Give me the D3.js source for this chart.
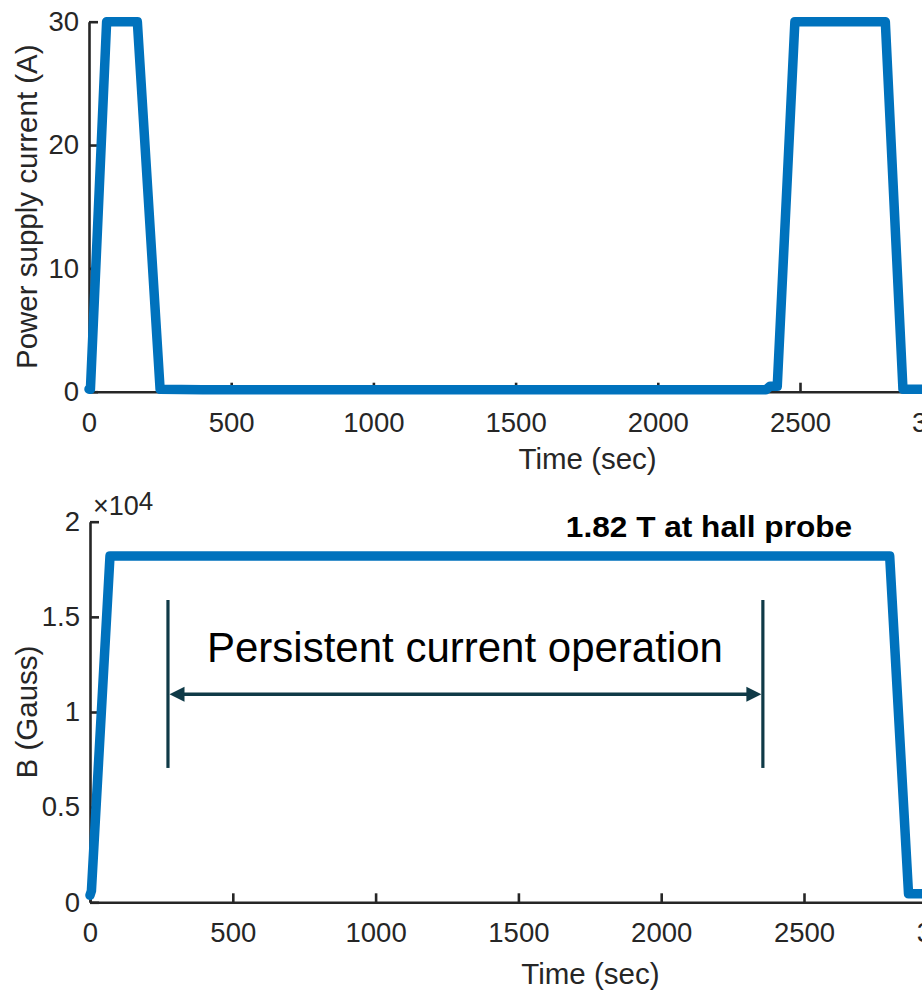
<!DOCTYPE html>
<html>
<head>
<meta charset="utf-8">
<script src="https://cdn.jsdelivr.net/npm/d3@7"></script>
<style>
  html, body { margin: 0; padding: 0; background: #ffffff; overflow: hidden; }
  svg { display: block; font-family: "Liberation Sans", Arial, Helvetica, sans-serif; }
</style>
</head>
<body>
<svg id="chart" width="922" height="995"></svg>
<script>
// Magnet charging run: power supply current and field at the hall probe.
const xTicks = [0, 500, 1000, 1500, 2000, 2500, 3000];

// Power supply current (A) vs time (s)
const timeCurrent = [0, 5, 62, 170, 250, 400, 2380, 2395, 2420, 2482, 2800, 2862, 3000];
const current     = [0.2, 0.2, 30, 30, 0.2, 0.15, 0.15, 0.45, 0.45, 30, 30, 0.2, 0.2];
const currentTicks = [0, 10, 20, 30];

// Magnetic field (Gauss) vs time (s)
const timeField = [0, 5, 70, 2800, 2866, 3000];
const field     = [370, 600, 18200, 18200, 450, 450];
const fieldTicks = [0, 5000, 10000, 15000, 20000];
const fieldTickLabels = ["0", "0.5", "1", "1.5", "2"];

// Persistent-mode window (s) and the peak field label
const persistentWindow = [273, 2356];
const peakLabel = "1.82 T at hall probe";
const persistentLabel = "Persistent current operation";

const svg = d3.select("#chart");
svg.append("rect").attr("width", 922).attr("height", 995).attr("fill", "#fff");

const AXIS = "#262626";
const LINE = "#0072BD";
const NOTE = "#0f3a47";
const TICK_FONT = 27.5;
const LABEL_FONT = 29.5;

function styleAxis(g) {
  g.select(".domain").attr("stroke", AXIS).attr("stroke-width", 2.6);
  g.selectAll(".tick line").attr("stroke", AXIS).attr("stroke-width", 2.6);
  g.selectAll(".tick text").attr("fill", AXIS).attr("font-size", TICK_FONT)
    .attr("font-family", "Liberation Sans, Arial, sans-serif");
}

function drawPanel(opts) {
  const { x, y, times, values, yTicks, yFormat, yLabel, xLabelY, yLabelX } = opts;
  const g = svg.append("g");

  const xAxis = d3.axisBottom(x).tickValues(xTicks).tickFormat(d3.format("d"))
    .tickSizeInner(-9).tickSizeOuter(0).tickPadding(20.5);
  g.append("g").attr("transform", `translate(0,${y.range()[0]})`).call(xAxis).call(styleAxis);

  const yAxis = d3.axisLeft(y).tickValues(yTicks).tickFormat(yFormat)
    .tickSizeInner(-9).tickSizeOuter(0).tickPadding(10);
  g.append("g").attr("transform", `translate(${x.range()[0]},0)`).call(yAxis).call(styleAxis);

  // x label, centred on the axis span
  g.append("text")
    .attr("x", (x.range()[0] + x.range()[1]) / 2 + 72)
    .attr("y", xLabelY)
    .attr("text-anchor", "middle")
    .attr("font-size", LABEL_FONT)
    .attr("fill", AXIS)
    .text("Time (sec)");

  // y label
  const yMid = (y.range()[0] + y.range()[1]) / 2;
  g.append("text")
    .attr("transform", `translate(${yLabelX},${yMid}) rotate(-90)`)
    .attr("text-anchor", "middle")
    .attr("font-size", LABEL_FONT)
    .attr("fill", AXIS)
    .text(yLabel);

  const pts = times.map((t, i) => [t, values[i]]);
  const line = d3.line().x(d => x(d[0])).y(d => y(d[1]));
  g.append("path")
    .datum(pts)
    .attr("d", line)
    .attr("fill", "none")
    .attr("stroke", LINE)
    .attr("stroke-width", 9.5)
    .attr("stroke-linejoin", "round")
    .attr("stroke-linecap", "round");
  return g;
}

// Top panel: current
const xTop = d3.scaleLinear().domain([0, 3000]).range([89, 89 + 6 * 142.2]);
const yTop = d3.scaleLinear().domain([0, 30]).range([391.7, 21.7]);
drawPanel({
  x: xTop, y: yTop, times: timeCurrent, values: current,
  yTicks: currentTicks, yFormat: d3.format("d"),
  yLabel: "Power supply current (A)", xLabelY: 469, yLabelX: 37
});

// Bottom panel: field
const xBot = d3.scaleLinear().domain([0, 3000]).range([90, 90 + 6 * 142.8]);
const yBot = d3.scaleLinear().domain([0, 20000]).range([902.3, 521.7]);
const bottom = drawPanel({
  x: xBot, y: yBot, times: timeField, values: field,
  yTicks: fieldTicks, yFormat: (d, i) => fieldTickLabels[i],
  yLabel: "B (Gauss)", xLabelY: 984, yLabelX: 37
});

// exponent multiplier above the field axis
const mult = bottom.append("text")
  .attr("x", 93).attr("y", 515)
  .attr("fill", AXIS).attr("font-size", 27);
mult.append("tspan").text("\u00d710");
mult.append("tspan").attr("dy", -5).attr("font-size", 26).text("4");

// peak field label
bottom.append("text")
  .attr("transform", "translate(709,537) scale(1.09,1)")
  .attr("text-anchor", "middle")
  .attr("font-size", 29)
  .attr("font-weight", "bold")
  .attr("fill", "#000")
  .text(peakLabel);

// persistent current window markers
const barTop = yBot(15885), barBot = yBot(7060), arrowY = yBot(10930);
const xl = xBot(persistentWindow[0]), xr = xBot(persistentWindow[1]);
[xl, xr].forEach(px => {
  bottom.append("line")
    .attr("x1", px).attr("x2", px).attr("y1", barTop).attr("y2", barBot)
    .attr("stroke", NOTE).attr("stroke-width", 3.2);
});
const headLen = 15, headHalf = 7.5;
bottom.append("line")
  .attr("x1", xl + headLen - 1).attr("x2", xr - headLen + 1)
  .attr("y1", arrowY).attr("y2", arrowY)
  .attr("stroke", NOTE).attr("stroke-width", 3.5);
bottom.append("path")
  .attr("d", `M${xl + 1.5},${arrowY} L${xl + 1.5 + headLen},${arrowY - headHalf} L${xl + 1.5 + headLen},${arrowY + headHalf} Z`)
  .attr("fill", NOTE);
bottom.append("path")
  .attr("d", `M${xr - 1.5},${arrowY} L${xr - 1.5 - headLen},${arrowY - headHalf} L${xr - 1.5 - headLen},${arrowY + headHalf} Z`)
  .attr("fill", NOTE);

bottom.append("text")
  .attr("x", 207).attr("y", 662)
  .attr("font-size", 42)
  .attr("fill", "#000")
  .text(persistentLabel);
</script>
</body>
</html>
